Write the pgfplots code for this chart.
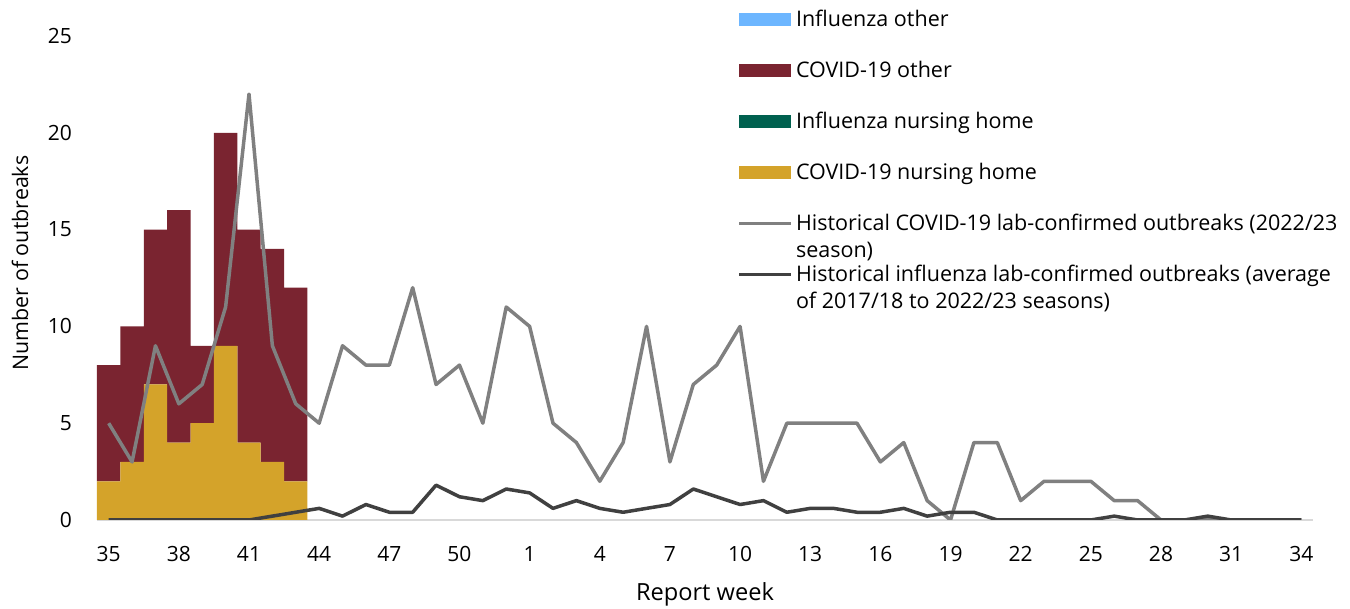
\documentclass[border=0pt]{standalone}
\usepackage{pgfplots}
\usepackage{pgfplotstable}
\pgfplotsset{compat=1.18}
\usepackage{fontspec}
\setmainfont{Open Sans}
\definecolor{cyel}{HTML}{D4A32A}
\definecolor{cmar}{HTML}{7A2430}
\definecolor{cgrn}{HTML}{00614F}
\definecolor{cblu}{HTML}{6DB6FF}
\definecolor{cgry}{HTML}{808080}
\definecolor{cdrk}{HTML}{404040}
\definecolor{caxis}{HTML}{D9D9D9}

% x = position index (0 = week 35 ... 17 = week 52, 18 = week 1 ... 51 = week 34)
\pgfplotstableread{
x cn fn co fo
0 2 0 6 0
1 3 0 7 0
2 7 0 8 0
3 4 0 12 0
4 5 0 4 0
5 9 0 11 0
6 4 0 11 0
7 3 0 11 0
8 2 0 10 0
}\bars

\pgfplotstableread{
x hc hf
0 5 0
1 3 0
2 9 0
3 6 0
4 7 0
5 11 0
6 22 0
7 9 0.2
8 6 0.4
9 5 0.6
10 9 0.2
11 8 0.8
12 8 0.4
13 12 0.4
14 7 1.8
15 8 1.2
16 5 1.0
17 11 1.6
18 10 1.4
19 5 0.6
20 4 1.0
21 2 0.6
22 4 0.4
23 10 0.6
24 3 0.8
25 7 1.6
26 8 1.2
27 10 0.8
28 2 1.0
29 5 0.4
30 5 0.6
31 5 0.6
32 5 0.4
33 3 0.4
34 4 0.6
35 1 0.2
36 0 0.4
37 4 0.4
38 4 0
39 1 0
40 2 0
41 2 0
42 2 0
43 1 0.2
44 1 0
45 0 0
46 0 0
47 0 0.2
48 0 0
49 0 0
50 0 0
51 0 0
}\lines

\pgfplotsset{
  myax/.style={
    scale only axis, width=608pt, height=242pt,
    xmin=-0.5, xmax=51.5, ymin=0, ymax=25,
    at={(0,0)}, anchor=south west,
    font=\fontsize{10.5}{14}\selectfont,
  },
  barleg/.style={legend image code/.code={\fill[##1, draw=none] (0pt,-3.25pt) rectangle (26pt,3.25pt);}},
  lineleg/.style={legend image code/.code={\draw[##1] (0pt,0pt) -- (26pt,0pt);}},
}

\begin{document}
\begin{tikzpicture}
\begin{axis}[myax,
  ybar stacked, bar width=1,
  axis lines*=left,
  x axis line style={caxis, line width=1pt, -},
  y axis line style={draw=none},
  major tick length=0pt,
  xtick={0,3,...,51},
  xticklabels={35,38,41,44,47,50,1,4,7,10,13,16,19,22,25,28,31,34},
  ytick={0,5,...,25},
  /pgf/number format/assume math mode=true,
  xticklabel style={yshift=-9.6pt},
  yticklabel style={anchor=east, xshift=-9pt},
  xlabel={Report week},
  ylabel={Number of outbreaks},
  every axis x label/.style={at={(axis description cs:0.5,-0.1653)}, anchor=base, font=\fontsize{11.8}{14}\selectfont},
  every axis y label/.style={at={(axis description cs:-0.0567,0.531)}, rotate=90, anchor=base, font=\fontsize{10.7}{14}\selectfont},
]
\addplot[fill=cyel, draw=none] table[x=x, y=cn] {\bars};
\addplot[fill=cgrn, draw=none] table[x=x, y=fn] {\bars};
\addplot[fill=cmar, draw=none] table[x=x, y=co] {\bars};
\addplot[fill=cblu, draw=none] table[x=x, y=fo] {\bars};
\end{axis}

\begin{axis}[myax, hide axis,
  legend style={at={(0.5264,1.058)}, anchor=north west, draw=none, fill=none,
    inner sep=0pt, row sep=14.5pt, column sep=1.5pt,
    font=\fontsize{10.75}{13.6}\selectfont,
    nodes={inner sep=0pt, text height=9pt, text depth=2pt},
    cells={anchor=west}},
]
\addlegendimage{barleg, fill=cblu}
\addlegendentry{Influenza other}
\addlegendimage{barleg, fill=cmar}
\addlegendentry{COVID-19 other}
\addlegendimage{barleg, fill=cgrn}
\addlegendentry{Influenza nursing home}
\addlegendimage{barleg, fill=cyel}
\addlegendentry{COVID-19 nursing home}
\addlegendimage{lineleg, cgry, line width=1.75pt}
\addlegendentry{\begin{tabular}[t]{@{}l@{}}Historical COVID-19 lab-confirmed outbreaks (2022/23\\season)\end{tabular}}
\addlegendimage{lineleg, cdrk, line width=1.75pt}
\addlegendentry{\begin{tabular}[t]{@{}l@{}}Historical influenza lab-confirmed outbreaks (average\\of 2017/18 to 2022/23 seasons)\end{tabular}}
\addplot[cgry, line width=1.75pt, line join=round, forget plot] table[x=x, y=hc] {\lines};
\addplot[cdrk, line width=1.75pt, line join=round, forget plot] table[x=x, y=hf] {\lines};
\end{axis}
\pgfresetboundingbox
\useasboundingbox (-48.5pt,-44.5pt) rectangle (626.5pt,260pt);
\end{tikzpicture}
\end{document}
